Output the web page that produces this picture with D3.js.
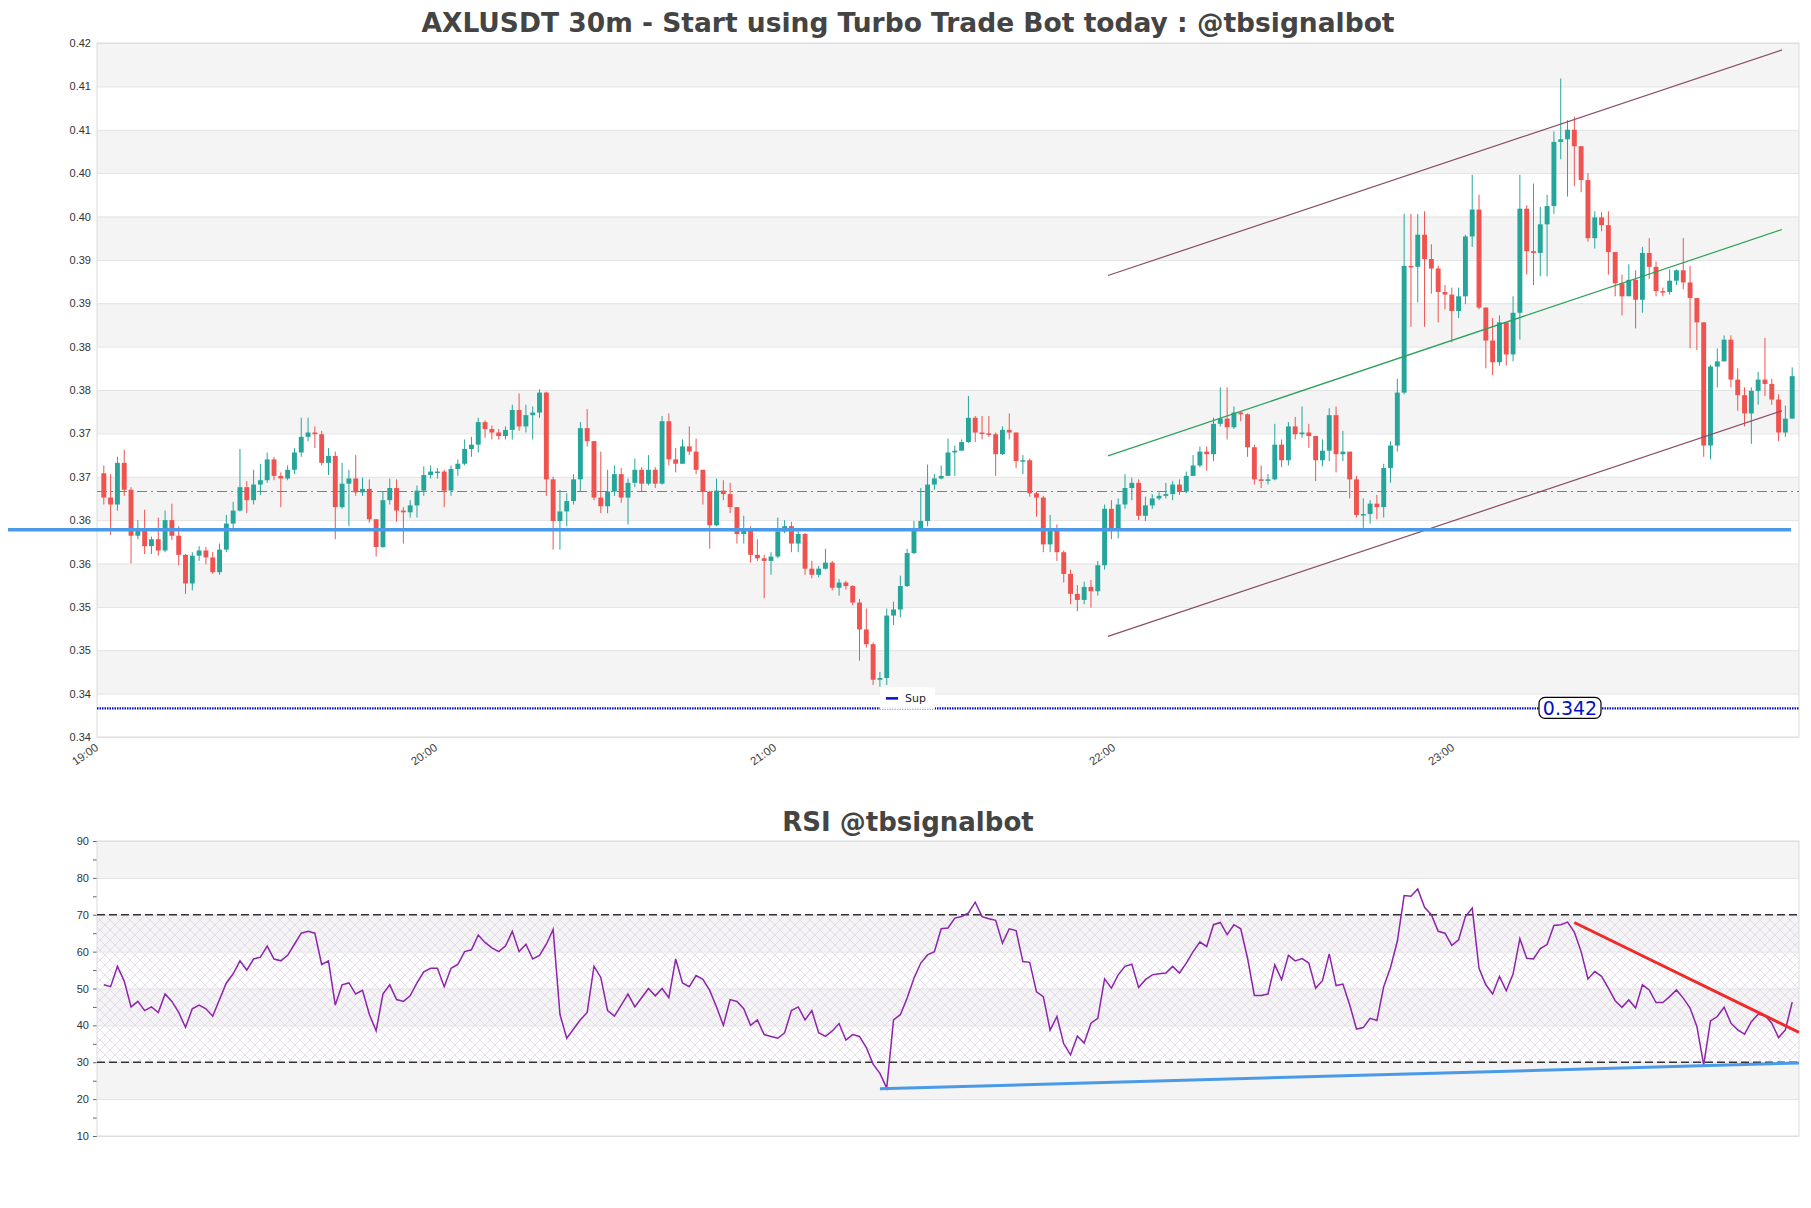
<!DOCTYPE html>
<html>
<head>
<meta charset="utf-8">
<script src="https://cdn.jsdelivr.net/npm/d3@7"></script>
<style>
  body { margin: 0; background: #fff; }
  svg { display: block; font-family: "DejaVu Sans", sans-serif; }
</style>
</head>
<body>
<div id="chart"></div>
<script>
// price data, open = previous close
const firstOpen = 0.3691;
const closes = [
  .3663,.3655,.3703,.3672,.3619,.3627,.3607,.3615,.3602,.3637,
  .3619,.3597,.3564,.3596,.3602,.3594,.3577,.3603,.3633,.3648,
  .3675,.3660,.3678,.3683,.3707,.3688,.3685,.3695,.3715,.3733,
  .3738,.3736,.3703,.3711,.3652,.3679,.3685,.3669,.3673,.3638,
  .3606,.3660,.3674,.3648,.3646,.3654,.3671,.3689,.3693,.3693,
  .3671,.3696,.3702,.3719,.3724,.3750,.3742,.3738,.3734,.3741,
  .3764,.3745,.3758,.3761,.3784,.3684,.3636,.3647,.3659,.3684,
  .3743,.3728,.3663,.3653,.3670,.3690,.3663,.3680,.3695,.3679,
  .3695,.3679,.3751,.3707,.3702,.3722,.3716,.3695,.3670,.3631,
  .3671,.3667,.3652,.3621,.3627,.3597,.3593,.3590,.3595,.3624,
  .3630,.3610,.3621,.3581,.3574,.3581,.3588,.3559,.3565,.3561,
  .3542,.3511,.3494,.3453,.3455,.3527,.3534,.3561,.3599,.3626,
  .3636,.3678,.3685,.3688,.3715,.3717,.3727,.3755,.3738,.3737,
  .3736,.3713,.3741,.3738,.3705,.3706,.3668,.3663,.3609,.3627,
  .3600,.3575,.3552,.3545,.3560,.3555,.3585,.3650,.3626,.3655,
  .3674,.3680,.3642,.3654,.3662,.3665,.3667,.3678,.3670,.3688,
  .3700,.3716,.3713,.3748,.3754,.3744,.3761,.3759,.3721,.3684,
  .3683,.3684,.3724,.3706,.3745,.3736,.3738,.3734,.3706,.3717,
  .3758,.3713,.3716,.3684,.3643,.3644,.3656,.3652,.3697,.3723,
  .3784,.3930,.3929,.3966,.3938,.3927,.3900,.3897,.3878,.3895,
  .3964,.3995,.3882,.3844,.3819,.3865,.3828,.3876,.3996,.3947,
  .3945,.3978,.3999,.4073,.4076,.4087,.4068,.4029,.3962,.3986,
  .3977,.3946,.3910,.3895,.3914,.3891,.3945,.3929,.3901,.3900,
  .3913,.3925,.3911,.3893,.3865,.3723,.3814,.3820,.3845,.3799,
  .3781,.3760,.3786,.3799,.3794,.3776,.3738,.3754,.3803
];
const highs = [
  .3700,.3690,.3710,.3718,.3675,.3637,.3649,.3618,.3640,.3648,
  .3656,.3630,.3598,.3600,.3607,.3606,.3600,.3610,.3643,.3658,
  .3719,.3682,.3695,.3702,.3715,.3710,.3692,.3700,.3720,.3755,
  .3755,.3745,.3740,.3720,.3716,.3703,.3695,.3712,.3686,.3684,
  .3638,.3670,.3685,.3684,.3652,.3660,.3677,.3699,.3700,.3697,
  .3695,.3700,.3707,.3730,.3733,.3755,.3752,.3746,.3742,.3745,
  .3770,.3783,.3770,.3768,.3788,.3785,.3687,.3672,.3668,.3690,
  .3750,.3765,.3728,.3716,.3695,.3700,.3697,.3685,.3708,.3698,
  .3712,.3698,.3757,.3760,.3720,.3730,.3745,.3731,.3695,.3670,
  .3685,.3683,.3680,.3650,.3642,.3630,.3615,.3597,.3600,.3640,
  .3637,.3635,.3625,.3622,.3590,.3584,.3604,.3590,.3569,.3567,
  .3562,.3546,.3535,.3496,.3462,.3535,.3543,.3573,.3604,.3636,
  .3674,.3701,.3690,.3700,.3731,.3723,.3730,.3780,.3757,.3757,
  .3757,.3738,.3745,.3760,.3738,.3712,.3708,.3670,.3665,.3643,
  .3632,.3602,.3580,.3562,.3566,.3568,.3590,.3655,.3660,.3662,
  .3690,.3686,.3684,.3664,.3667,.3669,.3680,.3682,.3684,.3693,
  .3712,.3722,.3722,.3755,.3790,.3790,.3768,.3762,.3760,.3724,
  .3700,.3690,.3748,.3730,.3750,.3756,.3768,.3748,.3734,.3730,
  .3766,.3768,.3740,.3700,.3688,.3662,.3660,.3666,.3702,.3728,
  .3800,.3990,.3990,.3990,.3993,.3955,.3930,.3908,.3905,.3905,
  .3966,.4035,.4012,.3882,.3870,.3873,.3860,.3895,.4035,.4000,
  .4025,.3998,.4012,.4085,.4146,.4098,.4102,.4068,.4037,.3993,
  .3992,.3993,.3946,.3920,.3932,.3925,.3952,.3962,.3935,.3905,
  .3926,.3926,.3962,.3930,.3893,.3865,.3816,.3835,.3850,.3850,
  .3812,.3790,.3790,.3808,.3847,.3800,.3782,.3769,.3813
];
const lows = [
  .3655,.3620,.3648,.3665,.3587,.3615,.3598,.3598,.3596,.3600,
  .3614,.3585,.3552,.3556,.3590,.3586,.3575,.3574,.3600,.3627,
  .3647,.3645,.3655,.3666,.3680,.3683,.3652,.3683,.3690,.3710,
  .3728,.3720,.3700,.3689,.3615,.3650,.3630,.3665,.3665,.3634,
  .3595,.3605,.3655,.3635,.3610,.3640,.3640,.3665,.3685,.3685,
  .3652,.3665,.3688,.3700,.3710,.3715,.3732,.3730,.3730,.3730,
  .3730,.3740,.3738,.3730,.3755,.3665,.3603,.3603,.3630,.3655,
  .3670,.3722,.3660,.3645,.3645,.3665,.3657,.3632,.3675,.3670,
  .3677,.3674,.3678,.3700,.3692,.3702,.3712,.3690,.3655,.3604,
  .3630,.3660,.3645,.3610,.3610,.3588,.3590,.3547,.3574,.3593,
  .3622,.3600,.3600,.3574,.3570,.3571,.3580,.3556,.3550,.3557,
  .3539,.3475,.3490,.3447,.3445,.3447,.3516,.3525,.3560,.3598,
  .3630,.3630,.3672,.3684,.3688,.3688,.3720,.3726,.3727,.3730,
  .3733,.3688,.3712,.3730,.3697,.3690,.3664,.3641,.3600,.3600,
  .3590,.3565,.3540,.3532,.3540,.3536,.3550,.3580,.3615,.3616,
  .3650,.3660,.3637,.3636,.3650,.3660,.3662,.3660,.3666,.3668,
  .3688,.3698,.3694,.3705,.3745,.3730,.3742,.3751,.3710,.3678,
  .3674,.3678,.3683,.3698,.3700,.3730,.3732,.3720,.3682,.3699,
  .3705,.3692,.3705,.3662,.3640,.3628,.3633,.3638,.3640,.3680,
  .3716,.3782,.3860,.3888,.3860,.3898,.3865,.3880,.3842,.3870,
  .3886,.3952,.3880,.3812,.3804,.3815,.3815,.3820,.3845,.3920,
  .3908,.3918,.3918,.3990,.4053,.4010,.4022,.4015,.3958,.3950,
  .3970,.3920,.3895,.3873,.3896,.3858,.3876,.3915,.3895,.3895,
  .3897,.3908,.3903,.3835,.3833,.3710,.3707,.3790,.3820,.3790,
  .3763,.3745,.3725,.3770,.3780,.3770,.3728,.3733,.3754
];
const rsi = [
  51,50.5,56,52,45,46.5,44,45,43.5,48.5,
  46.5,43.5,39.5,44.5,45.5,44.5,42.5,47,51.5,54,
  57.5,55,58,58.5,61.5,58,57.5,59,62,65,
  65.5,65,56.5,57.5,45.5,51,51.5,48.5,49.5,43,
  38.5,48.5,51,47,46.5,48,51.5,54.5,55.5,55.5,
  50.5,55.5,56.5,60,60.5,64.5,62.5,61,60,61.5,
  65.5,60,62,58,59,62,66,43,36.5,39,
  41.5,43.5,56,53,44,42.5,45.5,48.5,45,47.5,
  50,48,50,47.5,58,51.5,50.5,53.5,52.5,49.5,
  45,40,47,46.5,44.5,40,41.5,37.5,37,36.5,
  38,44,45,41.5,44,38,37,38.5,40.5,36,
  37.5,37,34,29.5,27,23,
  41.5,42.9,47.4,52.8,56.9,59.1,60.0,66.2,66.4,69.1,
  69.5,70.5,73.4,69.5,68.9,68.5,62.3,66.2,65.7,57.3,
  57.1,49.1,47.8,38.7,42.4,35.0,32.0,37.1,35.2,40.6,
  41.9,52.6,50.1,53.7,56.0,56.6,50.3,52.4,53.7,54.0,
  54.2,56.0,54.2,56.9,60.0,62.6,61.4,67.3,67.9,64.6,
  67.3,66.2,58.2,48.1,48.1,48.5,56.4,52.4,59.0,57.5,
  58.1,56.9,50.1,52.1,59.4,50.8,51.2,45.6,39.0,39.4,
  41.9,41.3,50.5,55.7,62.8,75.2,75.0,77.0,72.0,70.0,
  65.5,65.0,61.7,63.2,69.5,71.8,55.5,51.0,48.5,53.3,
  49.4,53.9,63.5,58.2,58.0,60.8,61.9,67.1,67.3,68.0,
  65.3,60.0,52.6,54.6,53.3,50.1,46.7,44.9,46.9,44.7,
  51.0,49.6,46.2,46.2,47.8,49.6,47.4,44.7,39.7,29.3,
  41.2,42.4,44.9,40.6,38.8,37.6,41.0,43.0,42.7,40.6,
  36.7,38.8,46.3
];

const priceTicks = [0.3387,0.3437,0.3487,0.3537,0.3587,0.3637,0.3687,0.3737,0.3787,
                    0.3837,0.3887,0.3937,0.3987,0.4037,0.4087,0.4137,0.4187];
const timeTicks = [-1, 48.8, 98.6, 148.4, 198.2];
const timeLabels = ["19:00", "20:00", "21:00", "22:00", "23:00"];
const rsiTicks = [10, 20, 30, 40, 50, 60, 70, 80, 90];

// levels and trend lines (index, value)
const supportLevel = 0.342;
const blueLevel = 0.3626;
const dashLevel = 0.3670;
const channelUpper = [[147.5, 0.3919], [246.5, 0.4179]];
const channelMid = [[147.5, 0.3711], [246.5, 0.3972]];
const channelLower = [[147.5, 0.3503], [246.5, 0.3763]];
const rsiSupport = [[114, 22.8], [249, 29.8]];
const rsiResist = [[216, 67.9], [249, 38.1]];

const W = 1811, H = 1208;
const P = { left: 97, right: 1799, top: 43, bottom: 737 };
const R = { top: 841, bottom: 1136 };

const svg = d3.select("#chart").append("svg").attr("width", W).attr("height", H);
svg.append("rect").attr("width", W).attr("height", H).attr("fill", "#fff");

const x = d3.scaleLinear().domain([-1, closes.length]).range([P.left, P.right]);
const y = d3.scaleLinear().domain([priceTicks[0], priceTicks[priceTicks.length - 1]]).range([P.bottom, P.top]);
const yr = d3.scaleLinear().domain([10, 90]).range([R.bottom, R.top]);

const defs = svg.append("defs");
defs.append("clipPath").attr("id", "clipMain").append("rect")
  .attr("x", P.left).attr("y", P.top).attr("width", P.right - P.left).attr("height", P.bottom - P.top);
const hatch = defs.append("pattern").attr("id", "hatch").attr("patternUnits", "userSpaceOnUse")
  .attr("width", 10).attr("height", 10);
hatch.append("path").attr("d", "M0,0L10,10M10,0L0,10").attr("stroke", "#d9c6e3").attr("stroke-width", 0.6);

// ---------- main panel ----------
svg.append("text").attr("x", 908).attr("y", 32).attr("text-anchor", "middle")
  .style("font-size", "26.5px").style("font-weight", "bold").attr("fill", "#444")
  .text("AXLUSDT 30m - Start using Turbo Trade Bot today : @tbsignalbot");

// alternating bands
svg.append("g").selectAll("rect").data(priceTicks.slice(0, -1).map((t, k) => [t, priceTicks[k + 1], k]))
  .join("rect")
  .attr("x", P.left).attr("width", P.right - P.left)
  .attr("y", d => y(d[1])).attr("height", d => y(d[0]) - y(d[1]))
  .attr("fill", d => d[2] % 2 ? "#f4f4f4" : "#fff");

svg.append("g").attr("transform", `translate(${P.left},0)`)
  .call(d3.axisLeft(y).tickValues(priceTicks).tickFormat(d3.format(".2f")).tickSize(-(P.right - P.left)).tickPadding(6))
  .call(g => g.select(".domain").remove())
  .call(g => g.selectAll("line").attr("stroke", "#e2e2e2"))
  .call(g => g.selectAll("text").attr("fill", "#333").style("font-size", "11px"));

svg.append("rect").attr("x", P.left).attr("y", P.top).attr("width", P.right - P.left).attr("height", P.bottom - P.top)
  .attr("fill", "none").attr("stroke", "#dcdcdc");

svg.append("g").attr("transform", `translate(0,${P.bottom})`)
  .call(d3.axisBottom(x).tickValues(timeTicks).tickFormat((d, i) => timeLabels[i]).tickSize(0).tickPadding(0))
  .call(g => g.select(".domain").remove())
  .call(g => g.selectAll("text").attr("fill", "#444").style("font-size", "11.5px")
    .attr("text-anchor", "end").attr("y", 3).attr("dy", "0.7em").attr("dx", "-0.5em")
    .attr("transform", "rotate(-35)"));

const main = svg.append("g").attr("clip-path", "url(#clipMain)");

// teal dash-dot level
main.append("line").attr("x1", P.left).attr("x2", P.right).attr("y1", y(dashLevel)).attr("y2", y(dashLevel))
  .attr("stroke", "#1aa3c4").attr("stroke-width", 1.2).attr("stroke-dasharray", "10,4,2,4");

// candles
const step = x(1) - x(0);
const candles = closes.map((c, i) => ({ i, o: i ? closes[i - 1] : firstOpen, c, h: highs[i], l: lows[i] }));
const cg = main.append("g").selectAll("g").data(candles).join("g");
cg.append("line").attr("x1", d => x(d.i)).attr("x2", d => x(d.i))
  .attr("y1", d => y(d.h)).attr("y2", d => y(d.l))
  .attr("stroke", d => d.c >= d.o ? "#26a69a" : "#ef5350").attr("stroke-width", 1);
cg.append("rect").attr("x", d => x(d.i) - step * 0.36).attr("width", step * 0.72)
  .attr("y", d => y(Math.max(d.o, d.c)))
  .attr("height", d => Math.max(1.5, Math.abs(y(d.o) - y(d.c))))
  .attr("fill", d => d.c >= d.o ? "#26a69a" : "#ef5350");

// channel
const pl = d3.line().x(d => x(d[0])).y(d => y(d[1]));
main.append("path").attr("d", pl(channelUpper)).attr("stroke", "#8b4a66").attr("stroke-width", 1.2).attr("fill", "none");
main.append("path").attr("d", pl(channelLower)).attr("stroke", "#8b4a66").attr("stroke-width", 1.2).attr("fill", "none");
main.append("path").attr("d", pl(channelMid)).attr("stroke", "#2ca05a").attr("stroke-width", 1.2).attr("fill", "none");

// light blue level (extends left of the axis)
svg.append("line").attr("x1", 8).attr("x2", 1791).attr("y1", y(blueLevel)).attr("y2", y(blueLevel))
  .attr("stroke", "#4a9ae8").attr("stroke-width", 3.5);

// support
svg.append("line").attr("x1", P.left).attr("x2", P.right).attr("y1", y(supportLevel)).attr("y2", y(supportLevel))
  .attr("stroke", "#0010c8").attr("stroke-width", 2.2).attr("stroke-dasharray", "1.5,1");
const lbl = svg.append("g").attr("transform", `translate(1570,${y(supportLevel)})`);
lbl.append("rect").attr("x", -31).attr("y", -11).attr("width", 62).attr("height", 21).attr("rx", 6)
  .attr("fill", "#fff").attr("stroke", "#000").attr("stroke-width", 1.2);
lbl.append("text").attr("text-anchor", "middle").attr("y", 7).style("font-size", "19px").attr("fill", "#0010c8").text("0.342");

// legend
const lg = svg.append("g").attr("transform", `translate(880,${y(supportLevel) - 21})`);
lg.append("rect").attr("width", 55).attr("height", 22).attr("fill", "#fff").attr("opacity", 0.9);
lg.append("line").attr("x1", 6).attr("x2", 18).attr("y1", 11).attr("y2", 11).attr("stroke", "#0010c8").attr("stroke-width", 2.5);
lg.append("text").attr("x", 25).attr("y", 15).style("font-size", "11px").attr("fill", "#222").text("Sup");

// ---------- RSI panel ----------
svg.append("text").attr("x", 908).attr("y", 831).attr("text-anchor", "middle")
  .style("font-size", "26px").style("font-weight", "bold").attr("fill", "#444").text("RSI @tbsignalbot");

svg.append("g").selectAll("rect").data(rsiTicks.slice(0, -1).map((t, k) => [t, rsiTicks[k + 1], k]))
  .join("rect")
  .attr("x", P.left).attr("width", P.right - P.left)
  .attr("y", d => yr(d[1])).attr("height", d => yr(d[0]) - yr(d[1]))
  .attr("fill", d => d[2] % 2 ? "#f4f4f4" : "#fff");
svg.append("rect").attr("x", P.left).attr("width", P.right - P.left)
  .attr("y", yr(70)).attr("height", yr(30) - yr(70)).attr("fill", "url(#hatch)");

svg.append("g").attr("transform", `translate(${P.left},0)`)
  .call(d3.axisLeft(yr).tickValues(rsiTicks).tickSize(-(P.right - P.left)).tickPadding(8))
  .call(g => g.select(".domain").remove())
  .call(g => g.selectAll("line").attr("stroke", "#e2e2e2"))
  .call(g => g.selectAll("text").attr("fill", "#333").style("font-size", "11px"));
svg.append("g").attr("transform", `translate(${P.left},0)`)
  .call(d3.axisLeft(yr).tickValues(d3.range(15, 90, 10)).tickSize(4).tickFormat(""))
  .call(g => g.select(".domain").remove())
  .call(g => g.selectAll("line").attr("stroke", "#666"));
svg.append("g").attr("transform", `translate(${P.left},0)`)
  .call(d3.axisLeft(yr).tickValues(rsiTicks).tickSize(4).tickFormat(""))
  .call(g => g.select(".domain").remove())
  .call(g => g.selectAll("line").attr("stroke", "#666"));

svg.append("rect").attr("x", P.left).attr("y", R.top).attr("width", P.right - P.left).attr("height", R.bottom - R.top)
  .attr("fill", "none").attr("stroke", "#dcdcdc");

[70, 30].forEach(v => svg.append("line").attr("x1", P.left).attr("x2", P.right)
  .attr("y1", yr(v)).attr("y2", yr(v)).attr("stroke", "#333").attr("stroke-width", 1.3).attr("stroke-dasharray", "8,4"));

svg.append("path").datum(rsi)
  .attr("d", d3.line().x((d, i) => x(i)).y(d => yr(d)))
  .attr("fill", "none").attr("stroke", "#8e24aa").attr("stroke-width", 1.5);

const rl = d3.line().x(d => x(d[0])).y(d => yr(d[1]));
svg.append("path").attr("d", rl(rsiSupport)).attr("stroke", "#4a9ae8").attr("stroke-width", 3).attr("fill", "none");
svg.append("path").attr("d", rl(rsiResist)).attr("stroke", "#ee2a2a").attr("stroke-width", 3).attr("fill", "none");
</script>
</body>
</html>
